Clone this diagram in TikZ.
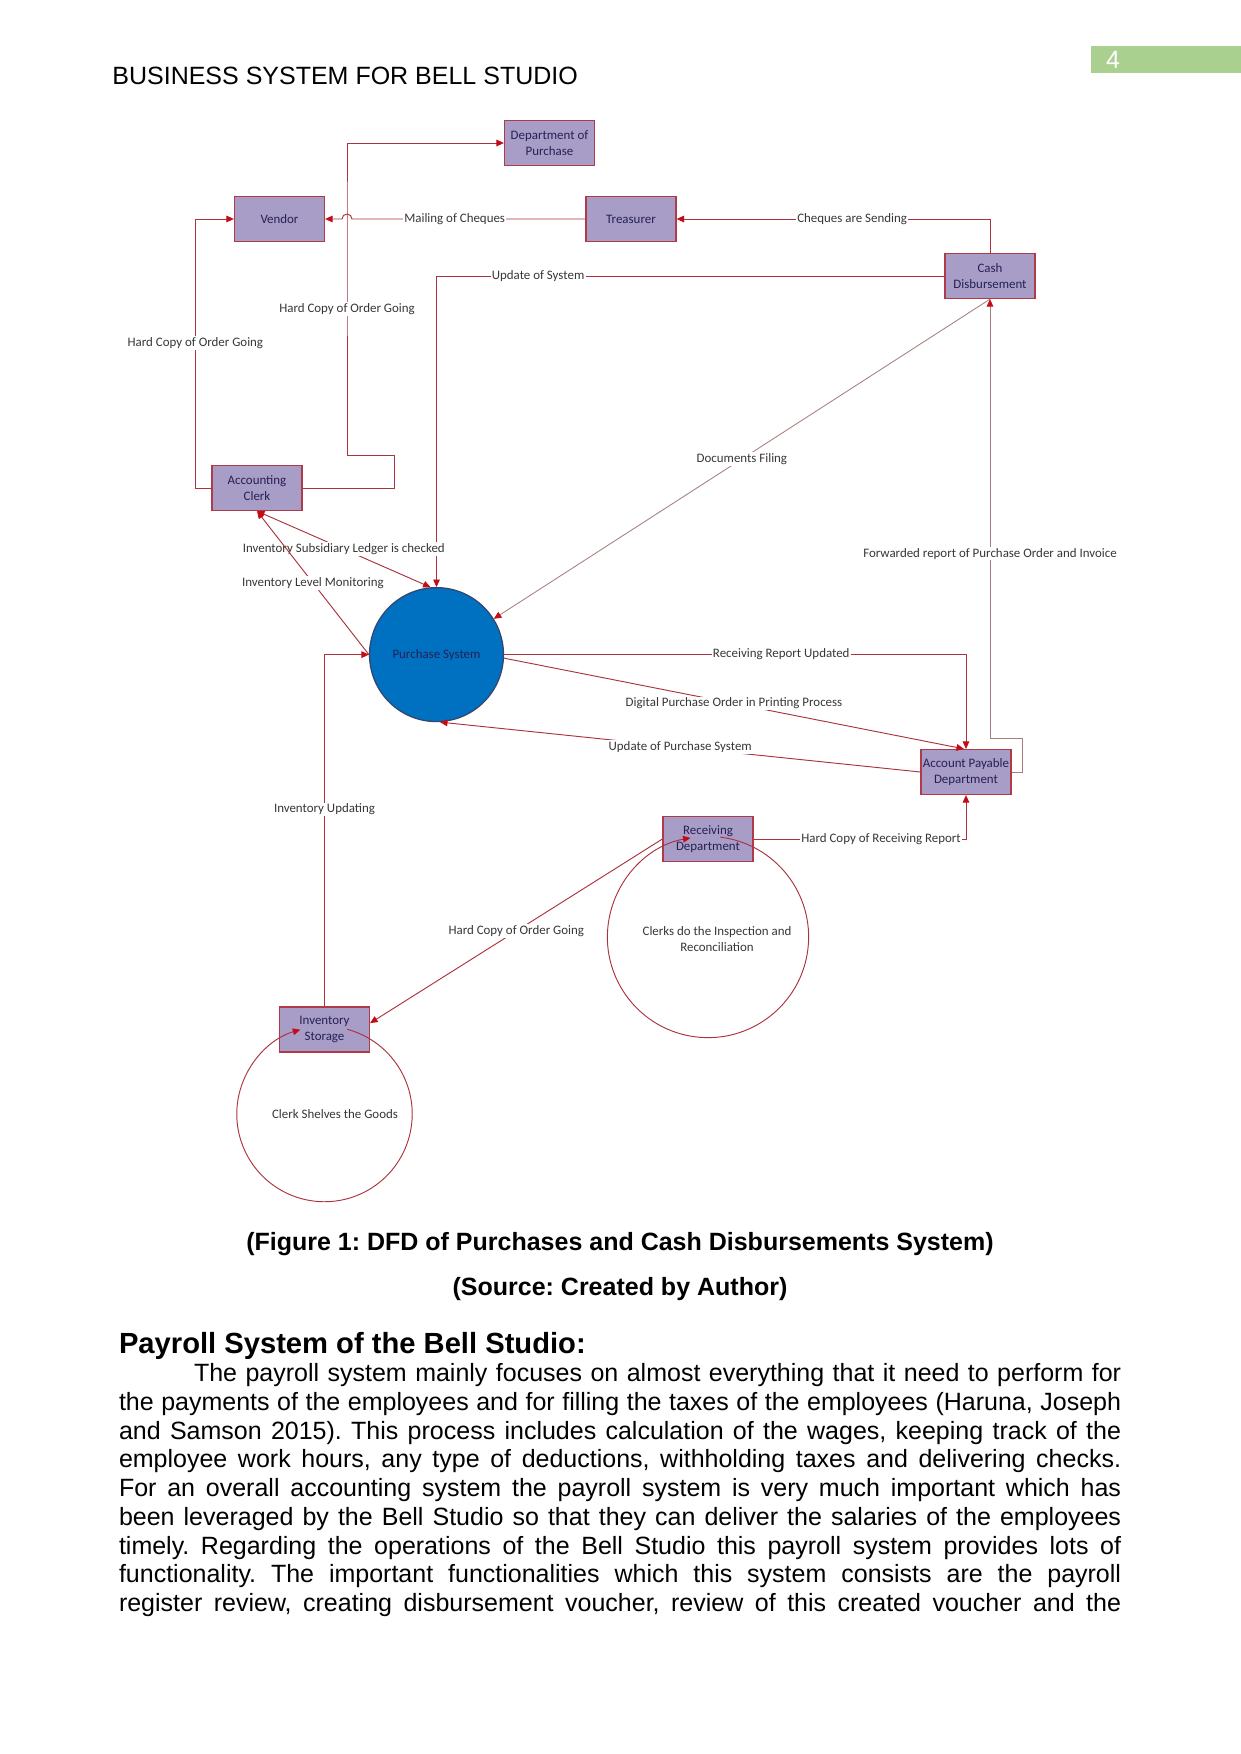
\documentclass[tikz,border=0pt]{standalone}
\usepackage{fontspec}
\setmainfont{Liberation Sans}
\newfontfamily\diafont{Carlito}
\usepackage{xcolor}
\usepackage{tikz}
\usetikzlibrary{arrows.meta, calc}
\frenchspacing

\definecolor{boxfill}{RGB}{167,157,199}
\definecolor{boxedge}{RGB}{176,58,72}
\definecolor{boxtext}{RGB}{38,32,84}
\definecolor{flowline}{RGB}{170,52,62}
\definecolor{flowfaint}{RGB}{165,125,125}
\definecolor{tipred}{RGB}{196,12,24}
\definecolor{labeltext}{RGB}{55,55,55}
\definecolor{procblue}{RGB}{0,112,192}
\definecolor{procedge}{RGB}{50,70,110}
\definecolor{pagegreen}{RGB}{169,208,142}

\begin{document}
\begin{tikzpicture}[
    x=0.48pt, y=-0.48pt,
    dfdtip/.tip={Triangle[length=3.6pt, width=3.2pt, color=tipred]},
    entity/.style={draw=boxedge, fill=boxfill, line width=0.6pt,
      minimum width=43.2pt, minimum height=21.6pt, inner sep=0.5pt,
      align=center, text=boxtext, font=\diafont\fontsize{6.2}{7.4}\selectfont},
    flow/.style={draw=flowline, line width=0.45pt, -dfdtip},
    faintflow/.style={flow, draw=flowfaint, line width=0.4pt},
    flowlabel/.style={fill=white, inner sep=0.6pt, text=labeltext,
      font=\diafont\fontsize{6.2}{7.4}\selectfont},
    ring/.style={draw=flowline, line width=0.45pt, -dfdtip},
]
% Page
\fill[white] (0,0) rectangle (1241,1754);
\useasboundingbox (0,0) rectangle (1241,1754);

% Running head
\node[anchor=base west, inner sep=0pt, font=\fontsize{12}{14}\selectfont]
  (runhead) at (112,84) {BUSINESS SYSTEM FOR BELL STUDIO};
\fill[pagegreen] (1091,46) rectangle (1241,73);
\node[text=white, inner sep=0pt, font=\fontsize{12}{14}\selectfont]
  (pagenum) at (1113,59.5) {4};

% External entities
\node[entity] (dop) at (549.5,143) {Department of\\Purchase};
\node[entity] (vendor) at (279.5,219) {Vendor};
\node[entity] (treasurer) at (631,219) {Treasurer};
\node[entity] (cashdisb) at (990,276) {Cash\\Disbursement};
\node[entity] (clerk) at (257,488) {Accounting\\Clerk};
\node[entity] (apd) at (966,772) {Account Payable\\Department};
\node[entity] (recv) at (708,839) {Receiving\\Department};
\node[entity] (invstore) at (324.5,1029.5) {Inventory\\Storage};

% Processes
\node[circle, draw=procedge, fill=procblue, line width=0.6pt,
  minimum size=64.3pt, inner sep=0pt, text=boxtext,
  font=\diafont\fontsize{6.2}{7.4}\selectfont] (purch) at (436.5,654.6) {Purchase System};
\coordinate (recvring) at (708,937);
\coordinate (invring) at (324.5,1114);
\draw[ring] ($(recvring)+(83:48.3pt)$) arc[start angle=83, end angle=-260, radius=48.3pt];
\draw[ring] ($(invring)+(75:42.1pt)$) arc[start angle=75, end angle=-254, radius=42.1pt];
\node[flowlabel, fill=none, align=center] (recvtxt) at (717,939)
  {Clerks do the Inspection and\\Reconciliation};
\node[flowlabel, fill=none] (invtxt) at (335,1114) {Clerk Shelves the Goods};

% Data flows
\coordinate (hop) at (347,219);
\draw[flow] (cashdisb.north) |- node[flowlabel, pos=0.72] {Cheques are Sending} (treasurer.east);
\draw[flow] (treasurer.west) -- node[flowlabel, pos=0.56] {Mailing of Cheques} ($(hop)+(5,0)$)
  arc[start angle=0, end angle=180, radius=2.4pt] -- (vendor.east);
\draw[flow] (clerk.west) -- ++(-16,0) |- node[flowlabel, pos=0.27] {Hard Copy of Order Going} (vendor.west);
\draw[flow] (clerk.east) -| ++(92,-33) -| node[flowlabel, pos=0.81] {Hard Copy of Order Going} (hop)
  |- (dop.west);
\draw[flow] (cashdisb.west) -| node[flowlabel, pos=0.4] {Update of System} (purch.north);
\draw[flow, dfdtip-dfdtip] (clerk.south) -- node[flowlabel] {Inventory Subsidiary Ledger is checked} (purch.95);
\draw[flow] (purch.west) -- node[flowlabel] {Inventory Level Monitoring} (clerk.south);
\draw[faintflow] (cashdisb.south) -- node[flowlabel] {Documents Filing} (purch.32);
\draw[faintflow] (apd.east) -- ++(11,0) -- ++(0,-34) -| node[flowlabel, pos=0.71]
  {Forwarded report of Purchase Order and Invoice} (cashdisb.south);
\draw[flow] (purch.east) -| node[flowlabel, pos=0.3] {Receiving Report Updated} (apd.north);
\draw[flow] (purch.-3) -- node[flowlabel] {Digital Purchase Order in Printing Process} (apd.95);
\draw[flow] (apd.west) -- node[flowlabel] {Update of Purchase System} (purch.-87);
\draw[flow] (recv.east) -| node[flowlabel, pos=0.3] {Hard Copy of Receiving Report} (apd.south);
\draw[flow] (recv.west) -- node[flowlabel] {Hard Copy of Order Going} (invstore.8);
\draw[flow] (invstore.north) |- node[flowlabel, pos=0.28] {Inventory Updating} (purch.west);

% Caption and text below
\node[anchor=base, inner sep=0pt, font=\bfseries\fontsize{12}{14}\selectfont]
  (figcap) at (620,1250) {(Figure 1: DFD of Purchases and Cash Disbursements System)};
\node[anchor=base, inner sep=0pt, font=\bfseries\fontsize{12}{14}\selectfont]
  (srccap) at (620,1295) {(Source: Created by Author)};
\node[anchor=base west, inner sep=0pt, font=\bfseries\fontsize{14}{16}\selectfont]
  (payhead) at (118.6,1353) {Payroll System of the Bell Studio:};
\node[anchor=north west, inner sep=0pt, text width=481pt, align=justify,
  font=\fontsize{12}{13.8}\selectfont] (bodytext) at (118.6,1361)
  {\parfillskip=0pt\strut\hspace*{36pt}The payroll system mainly focuses on almost everything that it need to perform for\linebreak
  the payments of the employees and for filling the taxes of the employees (Haruna, Joseph\linebreak
  and Samson 2015). This process includes calculation of the wages, keeping track of the\linebreak
  employee work hours, any type of deductions, withholding taxes and delivering checks.\linebreak
  For an overall accounting system the payroll system is very much important which has\linebreak
  been leveraged by the Bell Studio so that they can deliver the salaries of the employees\linebreak
  timely. Regarding the operations of the Bell Studio this payroll system provides lots of\linebreak
  functionality. The important functionalities which this system consists are the payroll\linebreak
  register review, creating disbursement voucher, review of this created voucher and the\par};
\end{tikzpicture}
\end{document}
